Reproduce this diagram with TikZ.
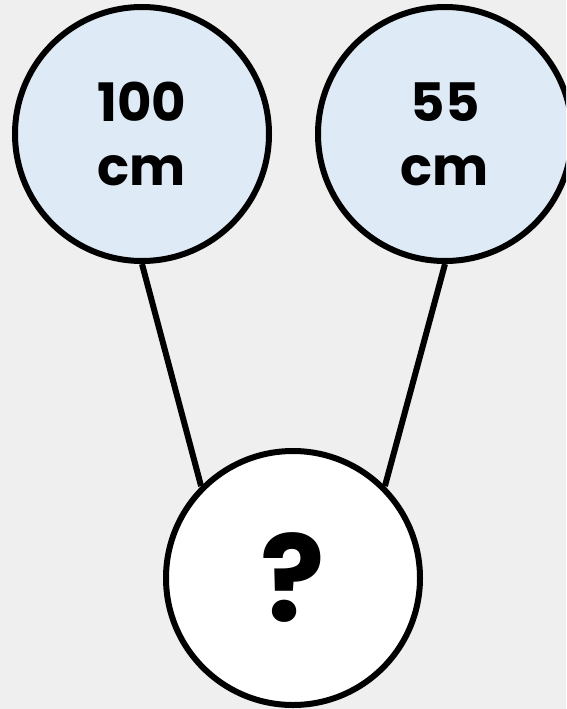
\documentclass[tikz,border=0pt]{standalone}
\usepackage{fontspec}
\newfontfamily\labelfont{Poppins}
\definecolor{pagebg}{HTML}{EFEFEF}
\definecolor{knownfill}{HTML}{DEEAF6}
\begin{document}
\begin{tikzpicture}[x=1pt,y=-1pt,
  ball/.style={circle,draw=black,line width=6pt,minimum size=254pt,inner sep=0pt,align=center},
  known/.style={ball,fill=knownfill,font=\labelfont\bfseries\fontsize{53}{64}\selectfont},
  unknown/.style={ball,fill=white,font=\labelfont\bfseries\fontsize{120}{120}\selectfont},
  link/.style={draw=black,line width=6pt}]
  \fill[pagebg] (0,0) rectangle (566,709);
  \useasboundingbox (0,0) rectangle (566,709);
  \clip (0,0) rectangle (566,709);
  \node[known] (a) at (142,134) {100\\cm};
  \node[known] (b) at (445,134) {55\\cm};
  \node[unknown] (q) at (293,578) {?};
  \draw[link] (a.south) -- (q.135);
  \draw[link] (b.south) -- (q.45);
\end{tikzpicture}
\end{document}
